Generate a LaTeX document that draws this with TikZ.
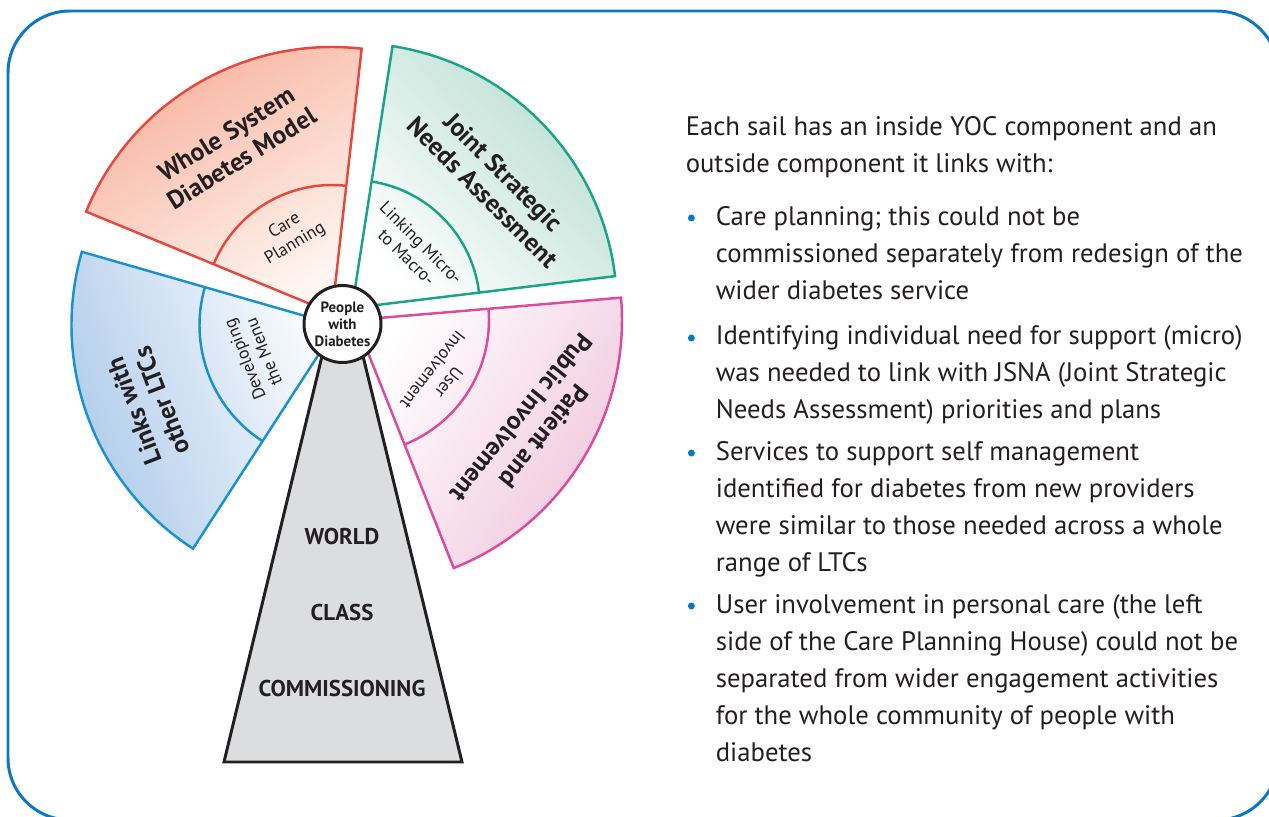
\documentclass[tikz,border=0pt]{standalone}
\usepackage{fontspec}
\setmainfont{PT Sans}
\usetikzlibrary{calc,positioning}
\definecolor{frameblue}{RGB}{11,120,196}
\definecolor{ink}{RGB}{35,31,32}
\definecolor{lwsdm}{RGB}{232,71,61}
\definecolor{fwsdm}{RGB}{247,176,154}
\definecolor{pwsdm}{RGB}{255,246,242}
\definecolor{ljsna}{RGB}{23,165,133}
\definecolor{fjsna}{RGB}{184,221,209}
\definecolor{pjsna}{RGB}{255,255,255}
\definecolor{lppi}{RGB}{220,74,154}
\definecolor{fppi}{RGB}{240,198,220}
\definecolor{pppi}{RGB}{255,255,255}
\definecolor{lltc}{RGB}{26,145,207}
\definecolor{fltc}{RGB}{170,200,233}
\definecolor{pltc}{RGB}{252,253,255}
\definecolor{pillargray}{RGB}{220,221,223}
\tikzset{%
  frame/.style = { draw=frameblue, line width=1.7pt, rounded corners=1.24cm },
  sail/.style = { line width=1.4pt, line join=miter },
  pillar/.style = { draw=ink, fill=pillargray, line width=1.7pt, line join=miter },
  hub/.style = { circle, draw=ink, fill=white, line width=1.7pt, minimum size=1.54cm, inner sep=0pt, align=center, text=ink, font=\fontsize{8.5}{9.7}\selectfont\bfseries },
  outlabel/.style = { align=center, inner sep=0pt, text=ink, font=\fontsize{14.5}{16.6}\selectfont\bfseries },
  inlabel/.style = { align=center, inner sep=0pt, text=ink, font=\fontsize{10}{11.7}\selectfont },
  pillarlabel/.style = { inner sep=0pt, text=ink, font=\fontsize{13}{15}\selectfont\bfseries },
  para/.style = { align=left, inner sep=0pt, text=ink, font=\fontsize{15.2}{21.06}\selectfont },
  dot/.style = { circle, fill=frameblue, minimum size=0.14cm, inner sep=0pt }
}
\begin{document}
\begin{tikzpicture}[x=0.02cm, y=0.02cm]
  \useasboundingbox (0,0) rectangle (1269,816);

  \draw[frame] (8,-4) rectangle (1278.5,805);

  % Sails
  \foreach \sail/\ax/\ay/\sa/\ea/\ro/\ri in {wsdm/332/503/83.6/157.6/266/128, jsna/352/508/6.9/81.2/265/128, ppi/355/496/-68.3/4.8/267/134, ltc/337.5/490.7/163.96/237.1/266/138} {
    \pgfmathsetmacro\shang{(\sa+\ea)/2-90}
    \shadedraw[sail, draw=l\sail, top color=f\sail, bottom color=p\sail, shading angle=\shang] (\ax,\ay) -- ++(\sa:\ro) arc[start angle=\sa, end angle=\ea, radius=\ro] -- cycle;
    \draw[sail, draw=l\sail] ($(\ax,\ay)+(\sa:\ri)$) arc[start angle=\sa, end angle=\ea, radius=\ri];
  }

  % Pillar
  \draw[pillar] (224,54) -- (323.5,466) -- (361.5,466) -- (462,54) -- cycle;
  \node[pillarlabel] (world) at (342,279) {WORLD};
  \node[pillarlabel] (class) at (342,203) {CLASS};
  \node[pillarlabel] (comm) at (342,127) {COMMISSIONING};

  \node[hub] (people) at (342.5,492) {People\\with\\Diabetes};

  % Sail labels
  \node[outlabel, rotate=32] (wsdm) at (234,670) {Whole System\\Diabetes Model};
  \node[outlabel, rotate=-45] (jsna) at (493,634) {Joint Strategic\\Needs Assessment};
  \node[outlabel, rotate=-129] (ppi) at (533,389) {Patient and\\Public Involvement};
  \node[outlabel, rotate=111] (ltc) at (148,410) {Links with\\other LTCs};

  \node[inlabel, rotate=31] (care) at (290,581) {Care\\Planning};
  \node[inlabel, rotate=-45] (micro) at (414,566) {Linking Micro-\\to Macro-};
  \node[inlabel, rotate=-128] (user) at (441,440) {User\\Involvement};
  \node[inlabel, rotate=112] (menu) at (254,460) {Developing\\the Menu};

  % Text (base = last line)
  \node[para, anchor=base west] (intro) at (685.4,643) {Each sail has an inside YOC component and an\\outside component it links with:};

  \foreach \i/\yb/\yl/\txt in {1/591/516.7/{Care planning; this could not be\\commissioned separately from redesign of the\\wider diabetes service},
    2/471/397.7/{Identifying individual need for support (micro)\\was needed to link with JSNA (Joint Strategic\\Needs Assessment) priorities and plans},
    3/356/244.3/{Services to support self management\\identified for diabetes from new providers\\were similar to those needed across a whole\\range of LTCs},
    4/203/54.3/{User involvement in personal care (the left\\side of the Care Planning House) could not be\\separated from wider engagement activities\\for the whole community of people with\\diabetes}} {
    \node[dot] (dot\i) at (691.4,\yb+7) {};
    \node[para, anchor=base west] (item\i) at (715.5,\yl) {\txt};
  }

\end{tikzpicture}
\end{document}
